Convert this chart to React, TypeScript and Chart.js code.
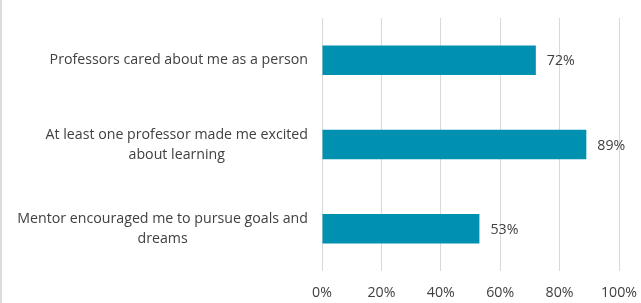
import React, { useEffect, useRef } from "react";
import { Chart, registerables } from "chart.js";

Chart.register(...registerables);

const categories: string[][] = [
  ["Professors cared about me as a person"],
  ["At least one professor made me excited", "about learning"],
  ["Mentor encouraged me to pursue goals and", "dreams"],
];
const values: number[] = [72, 89, 53];
const xTicks: number[] = [0, 20, 40, 60, 80, 100];

const FONT_FAMILY = "'Open Sans', sans-serif";
const FONT_SIZE = 14.2;
const TEXT_COLOR = "#404040";
const BAR_COLOR = "#0091B1";
const GRID_COLOR = "#d9d9d9";

const customPlugin = {
  id: "customLabels",
  beforeDraw(chart: any) {
    const ctx = chart.ctx;
    ctx.save();
    ctx.fillStyle = "#dcdcdc";
    ctx.fillRect(0, 0, 2, chart.height);
    ctx.restore();
  },
  afterDraw(chart: any) {
    const ctx = chart.ctx;
    const yScale = chart.scales.y;
    const area = chart.chartArea;
    ctx.save();
    ctx.font = `${FONT_SIZE}px ${FONT_FAMILY}`;
    ctx.fillStyle = TEXT_COLOR;
    ctx.textBaseline = "middle";
    ctx.textAlign = "center";
    const rightEdge = area.left - 14;
    const lineH = 20;
    categories.forEach((lines, i) => {
      const yc = yScale.getPixelForValue(i);
      const w = Math.max(...lines.map((l) => ctx.measureText(l).width));
      const cx = rightEdge - w / 2;
      const y0 = yc - ((lines.length - 1) * lineH) / 2;
      lines.forEach((l, j) => ctx.fillText(l, cx, y0 + j * lineH));
    });
    const meta = chart.getDatasetMeta(0);
    ctx.textAlign = "left";
    meta.data.forEach((bar: any, i: number) => {
      ctx.fillText(values[i] + "%", bar.x + 11, bar.y + 1);
    });
    ctx.restore();
  },
};

export default function App() {
  const canvasRef = useRef<HTMLCanvasElement | null>(null);

  useEffect(() => {
    document.body.style.margin = "0";
    const canvas = canvasRef.current;
    if (!canvas) return;
    const chart = new Chart(canvas, {
      type: "bar",
      data: {
        labels: categories.map((c) => c.join(" ")),
        datasets: [
          {
            data: values,
            backgroundColor: BAR_COLOR,
            borderWidth: 0,
            barPercentage: 0.35,
            categoryPercentage: 1,
          },
        ],
      },
      options: {
        indexAxis: "y",
        animation: false,
        responsive: false,
        devicePixelRatio: 1,
        layout: { padding: { top: 18, right: 22, left: 0, bottom: 0 } },
        plugins: {
          legend: { display: false },
          tooltip: { enabled: false },
        },
        scales: {
          x: {
            min: 0,
            max: 100,
            afterBuildTicks: (scale: any) => {
              scale.ticks = xTicks.map((v) => ({ value: v }));
            },
            afterFit: (scale: any) => {
              scale.height = 32;
              scale.paddingLeft = 0;
              scale.paddingRight = 0;
            },
            grid: { color: GRID_COLOR, drawTicks: false, lineWidth: 1 },
            border: { display: false },
            ticks: {
              padding: 13,
              color: TEXT_COLOR,
              font: { family: FONT_FAMILY, size: FONT_SIZE },
              callback: (v: any) => v + "%",
            },
          },
          y: {
            grid: { display: false },
            border: { display: false },
            ticks: { display: false },
            afterFit: (scale: any) => {
              scale.width = 322;
            },
          },
        },
      },
      plugins: [customPlugin],
    });
    return () => chart.destroy();
  }, []);

  return (
    <div style={{ width: 641, height: 303 }}>
      <canvas ref={canvasRef} width={641} height={303} style={{ display: "block" }} />
    </div>
  );
}
